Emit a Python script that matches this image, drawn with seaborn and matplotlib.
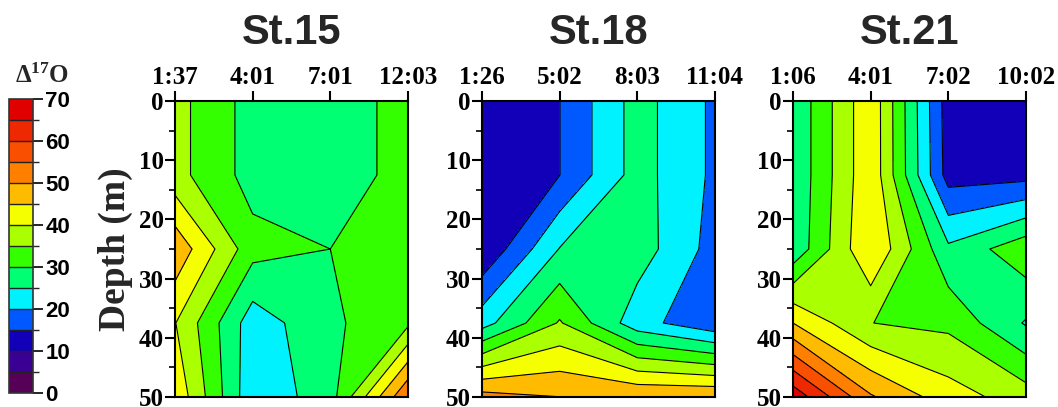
import numpy as np
import matplotlib
matplotlib.use("Agg")
import matplotlib.pyplot as plt
import seaborn as sns
from matplotlib.colors import ListedColormap, BoundaryNorm
from matplotlib.ticker import MultipleLocator

# ---------------- data ----------------
stations = ["St.15", "St.18", "St.21"]
times_st15 = ["1:37", "4:01", "7:01", "12:03"]
times_st18 = ["1:26", "5:02", "8:03", "11:04"]
times_st21 = ["1:06", "4:01", "7:02", "10:02"]
depths = [0, 12.5, 25, 37.5, 50]

# rows = depths, columns = sampling times  (Delta17O values)
d17o_st15 = [
    [36.75, 28.0, 27.0, 32.0],
    [36.75, 28.0, 27.0, 32.0],
    [48.7, 31.8, 30.0, 33.0],
    [40.2, 22.2, 29.0, 34.0],
    [43.9, 21.2, 27.8, 55.0],
]
d17o_st18 = [
    [12.0, 14.95, 27.1, 19.0],
    [12.0, 14.95, 27.1, 19.0],
    [10.5, 25.2, 27.6, 18.0],
    [22.8, 35.5, 22.0, 16.0],
    [52.0, 50.05, 49.7, 49.8],
]
d17o_st21 = [
    [25.8, 44.0, 12.3, 11.0],
    [25.8, 44.0, 12.8, 13.3],
    [26.2, 44.9, 26.0, 33.5],
    [45.0, 35.05, 33.8, 24.5],
    [68.5, 50.6, 42.3, 37.5],
]

levels = list(range(0, 75, 5))
band_colors = ["#560058", "#3a0094", "#1200b8", "#0058ff", "#00f2ff",
               "#00ff72", "#33ff00", "#aaff00", "#f5ff00", "#ffbb00",
               "#ff8000", "#f85000", "#ee2800", "#e00000"]

# ---------------- style ----------------
sns.set_theme(style="ticks")
plt.rcParams["font.family"] = ["Liberation Serif", "DejaVu Serif"]
plt.rcParams["font.weight"] = "bold"
plt.rcParams["axes.linewidth"] = 1.5
plt.rcParams["mathtext.fontset"] = "custom"
plt.rcParams["mathtext.rm"] = "Liberation Serif:bold"
plt.rcParams["mathtext.bf"] = "Liberation Serif:bold"
plt.rcParams["mathtext.it"] = "Liberation Serif:bold"
plt.rcParams["mathtext.default"] = "bf"

cmap = ListedColormap(band_colors)
norm = BoundaryNorm(levels, cmap.N)

fig = plt.figure(figsize=(10.58, 4.07), dpi=100)
W, H = 1058, 407

def fx(px):
    return px / W

def fy(px):
    return 1 - px / H

ax_left = [175, 482, 793]
ax_w = 233
ax_top, ax_bot = 101, 397

panels = [d17o_st15, d17o_st18, d17o_st21]
time_labels = [times_st15, times_st18, times_st21]

cf0 = None
for i in range(3):
    ax = fig.add_axes([fx(ax_left[i]), fy(ax_bot), fx(ax_w), (ax_bot - ax_top) / H])
    Z = np.array(panels[i])
    X, Y = np.meshgrid(np.arange(4), np.array(depths))
    cf = ax.contourf(X, Y, Z, levels=levels, cmap=cmap, norm=norm)
    ax.contour(X, Y, Z, levels=levels, colors="black", linewidths=0.8)
    if cf0 is None:
        cf0 = cf
    ax.set_xlim(0, 3)
    ax.set_ylim(50, 0)
    ax.xaxis.tick_top()
    ax.set_xticks(range(4))
    ax.set_xticklabels(time_labels[i], fontsize=18, fontweight="bold",
                       family="Liberation Serif")
    ax.set_yticks(range(0, 51, 10))
    ax.set_yticklabels([str(v) for v in range(0, 51, 10)], fontsize=18,
                       fontweight="bold", family="Liberation Serif")
    ax.yaxis.set_minor_locator(MultipleLocator(5))
    ax.tick_params(axis="x", which="major", length=7, width=1.5, pad=2,
                   top=True, bottom=False, direction="out", colors="black")
    ax.tick_params(axis="y", which="major", length=7, width=1.5, pad=1,
                   direction="out", colors="black")
    ax.tick_params(axis="y", which="minor", length=4, width=1.2,
                   direction="out", left=True, colors="black")
    for s in ax.spines.values():
        s.set_color("black")
        s.set_linewidth(1.5)
    fig.text(fx(ax_left[i] + ax_w / 2), fy(33), stations[i],
             ha="center", va="center", fontsize=30, fontweight="bold",
             family=["Liberation Sans", "DejaVu Sans"])
    if i == 0:
        ax.set_ylabel("Depth (m)", fontsize=27, fontweight="bold",
                      family="Liberation Serif", labelpad=4)

# colorbar
cax = fig.add_axes([fx(9), fy(393), fx(24), (393 - 99) / H])
cb = fig.colorbar(cf0, cax=cax, ticks=list(range(0, 71, 10)), drawedges=True)
cb.outline.set_edgecolor("#333333")
cb.outline.set_linewidth(1.2)
cb.dividers.set_color("#222222")
cb.dividers.set_linewidth(1.0)
cax.tick_params(length=7, width=1.2, pad=2, colors="black")
cax.set_yticklabels([str(v) for v in range(0, 71, 10)], fontsize=16,
                    fontweight="bold", family=["Liberation Sans", "DejaVu Sans"])
fig.text(fx(42), fy(76), "Δ$^{17}$O", ha="center", va="center",
         fontsize=18, fontweight="bold", family="Liberation Serif")

fig.savefig("out.png", dpi=100)
